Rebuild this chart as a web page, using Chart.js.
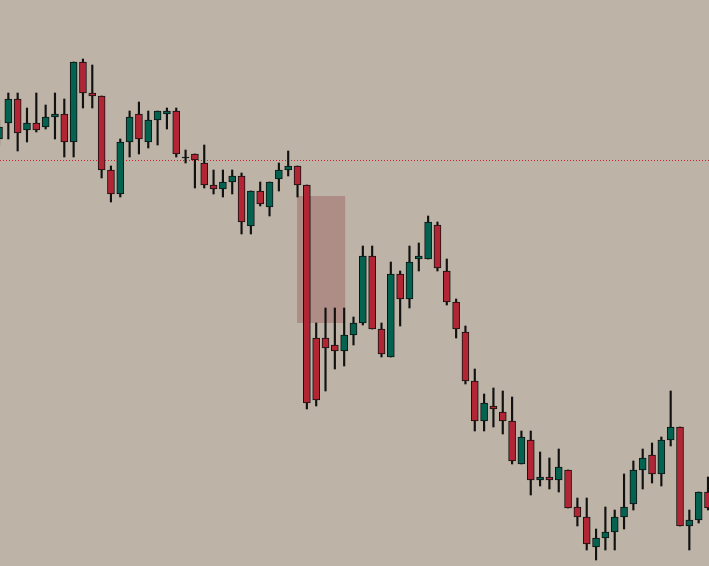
<!DOCTYPE html>
<html>
<head>
<meta charset="utf-8">
<script src="https://cdn.jsdelivr.net/npm/chart.js@4"></script>
<style>
  html, body { margin: 0; padding: 0; background: #bdb4a7; overflow: hidden; }
  canvas { display: block; }
</style>
</head>
<body>
<canvas id="candles" width="709" height="566"></canvas>
<script>
// price levels (screen units, larger = lower price)
const opens  = [139,123,99,130,123,127,117,114,142,62,93,96,170,194,142,114,142,120,114,111,157,154,163,185,189,182,176,226,191,207,179,170,166,185,338,338,345,351,335,323,256,329,357,274,299,259,259,225,271,302,332,381,421,406,412,421,464,440,480,477,480,470,507,517,547,538,532,517,504,470,455,474,440,427,526,520,492];
const closes = [127,99,133,123,130,117,114,142,62,93,96,170,194,142,117,139,120,111,111,154,157,160,185,189,182,176,222,191,204,182,170,166,185,403,400,348,351,335,323,256,329,354,274,299,262,256,222,268,302,329,381,421,403,409,421,461,437,480,477,480,467,508,517,544,538,532,517,507,470,458,474,440,427,526,520,492,508];
const highs  = [120,93,93,108,93,105,93,99,62,59,65,96,166,139,111,102,111,111,108,108,150,154,145,170,170,170,173,191,182,182,163,151,166,185,323,308,308,308,317,246,246,323,262,271,246,243,216,222,259,299,326,369,394,388,391,397,431,431,452,458,449,470,498,498,529,507,510,474,461,449,443,437,391,427,510,492,477];
const lows   = [145,139,151,142,132,129,139,157,157,108,108,178,202,197,157,154,148,145,129,157,163,188,188,194,197,194,234,234,206,216,191,176,197,409,406,391,369,366,345,325,329,357,357,326,308,271,259,271,305,338,384,431,431,427,434,464,464,495,486,489,492,508,526,550,560,550,550,529,510,489,483,486,446,526,550,523,510];
// shaded zone and dotted level
const zoneX = [32, 37];
const zoneY = [196, 323];
const levelY = 160;

const GREEN = "#036250", RED = "#b22535";

const bodies = opens.map((o, i) => {
  let a = o, b = closes[i];
  if (a === b) b = a + 0.8;
  return { x: i, y: [a, b] };
});
const wicks = highs.map((h, i) => ({ x: i, y: [h, lows[i]] }));
const bodyColors = opens.map((o, i) => closes[i] < o ? GREEN : (closes[i] > o ? RED : "#111"));

const overlayPlugin = {
  id: "overlay",
  beforeDatasetsDraw: (chart) => {
    const { ctx, scales: { x, y } } = chart;
    ctx.save();
    ctx.fillStyle = "rgba(168,128,122,0.75)";
    const x0 = x.getPixelForValue(zoneX[0]) - 0.5, x1 = x.getPixelForValue(zoneX[1]) + 1;
    const y0 = y.getPixelForValue(zoneY[0]), y1 = y.getPixelForValue(zoneY[1]);
    ctx.fillRect(x0, y0, x1 - x0, y1 - y0);
    ctx.strokeStyle = "#d4202a";
    ctx.lineWidth = 1;
    ctx.setLineDash([1, 2]);
    const ly = Math.round(y.getPixelForValue(levelY)) + 0.5;
    ctx.beginPath();
    ctx.moveTo(0, ly);
    ctx.lineTo(chart.width, ly);
    ctx.stroke();
    ctx.restore();
  }
};

new Chart(document.getElementById("candles").getContext("2d"), {
  type: "bar",
  data: {
    datasets: [
      { data: bodies, backgroundColor: bodyColors, borderColor: "#111", borderWidth: 1,
        borderSkipped: false, barThickness: 7, grouped: false, order: 0 },
      { data: wicks, backgroundColor: "#111", borderWidth: 0,
        barThickness: 1.5, grouped: false, order: 1 }
    ]
  },
  options: {
    responsive: false,
    animation: false,
    layout: { padding: 0 },
    plugins: { legend: { display: false }, tooltip: { enabled: false } },
    scales: {
      x: { type: "linear", min: 0.107, max: 76.107, offset: false, display: false },
      y: { min: 0, max: 566, reverse: true, display: false }
    }
  },
  plugins: [overlayPlugin]
});
</script>
</body>
</html>
